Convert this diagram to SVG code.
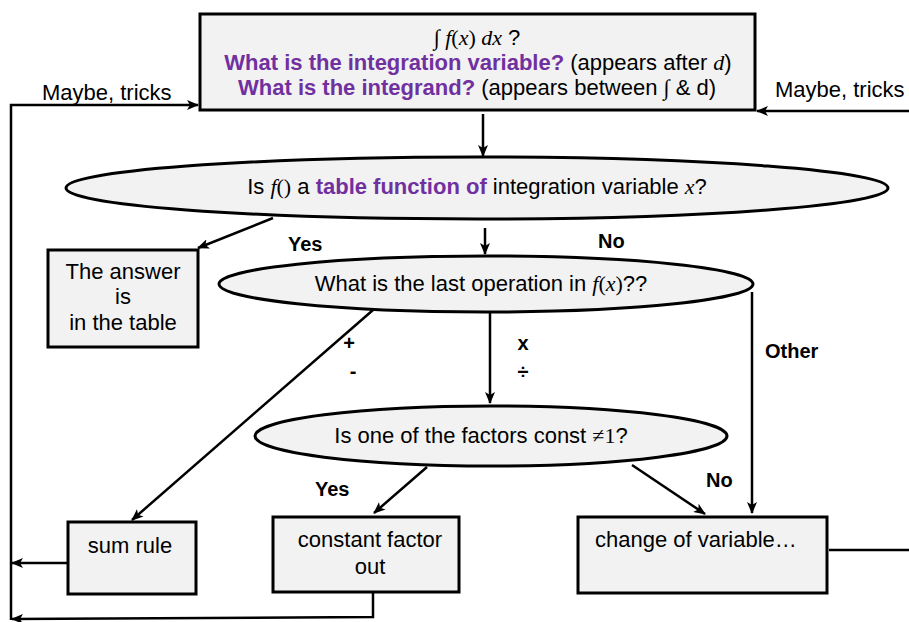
<svg xmlns="http://www.w3.org/2000/svg" width="909" height="622" viewBox="0 0 909 622">
<defs>
<marker id="ah" viewBox="0 0 12 10" refX="11" refY="5" markerWidth="12" markerHeight="10" markerUnits="userSpaceOnUse" orient="auto">
<path d="M0,0 L12,5 L0,10 L3,5 z" fill="#000"/>
</marker>
<style>
.box{fill:#f2f2f2;stroke:#000;stroke-width:3}
.ln{fill:none;stroke:#000;stroke-width:2.5}
.arr{fill:none;stroke:#000;stroke-width:2.5;marker-end:url(#ah)}
text{font-family:"Liberation Sans",Arial,sans-serif;font-size:22px;fill:#000}
.c{text-anchor:middle}
.b{font-weight:bold;font-size:20px}
.p{fill:#7030a0;font-weight:bold}
.m{font-family:"Liberation Serif","Times New Roman",serif;font-style:italic}
.s{font-family:"Liberation Serif","Times New Roman",serif}
</style>
</defs>
<g id="connectors">
<polyline class="arr" points="11,620 11,105 198,105"/>
<line class="arr" x1="909" y1="111" x2="757" y2="111"/>
<line class="arr" x1="483" y1="114" x2="483" y2="156"/>
<line class="arr" x1="273" y1="218" x2="198" y2="248"/>
<line class="arr" x1="485" y1="228" x2="485" y2="254"/>
<line class="arr" x1="373" y1="310" x2="132" y2="520"/>
<line class="arr" x1="490" y1="311" x2="490" y2="403"/>
<line class="arr" x1="752" y1="292" x2="752" y2="513"/>
<line class="arr" x1="427" y1="467" x2="374" y2="513"/>
<line class="arr" x1="632" y1="465" x2="705" y2="514"/>
<line class="arr" x1="67" y1="563" x2="12" y2="563"/>
<polyline class="arr" points="373,592 373,617 12,619"/>
<line class="ln" x1="829" y1="550" x2="909" y2="550"/>
<text x="42" y="100">Maybe, tricks</text>
<text x="775" y="97">Maybe, tricks</text>
<text class="b" x="288" y="251">Yes</text>
<text class="b" x="598" y="248">No</text>
<text class="b c" x="349" y="350">+</text>
<text class="b c" x="353" y="378">-</text>
<text class="b c" x="523" y="350">x</text>
<text class="b c" x="523" y="379">÷</text>
<text class="b" x="765" y="358">Other</text>
<text class="b" x="315" y="496">Yes</text>
<text class="b" x="706" y="487">No</text>
</g>
<g id="start">
<rect class="box" x="200" y="14" width="555" height="96"/>
<text class="c" x="477" y="45"><tspan class="s">∫ </tspan><tspan class="m">f</tspan><tspan class="s">(</tspan><tspan class="m">x</tspan><tspan class="s">) </tspan><tspan class="m">dx</tspan> ?</text>
<text class="c" x="478" y="70"><tspan class="p">What is the integration variable?</tspan> (appears after <tspan class="m">d</tspan>)</text>
<text class="c" x="477" y="95"><tspan class="p">What is the integrand?</tspan> (appears between <tspan class="s">∫</tspan> &amp; d)</text>
</g>
<g id="q-table">
<ellipse class="box" cx="477" cy="188" rx="411" ry="31"/>
<text class="c" x="477" y="194">Is <tspan class="m">f</tspan><tspan class="s">()</tspan> a <tspan class="p">table function of</tspan> integration variable <tspan class="m">x</tspan>?</text>
</g>
<g id="answer">
<rect class="box" x="48" y="250" width="150" height="97"/>
<text class="c" x="123" y="279">The answer</text>
<text class="c" x="123" y="304">is</text>
<text class="c" x="123" y="330">in the table</text>
</g>
<g id="q-last">
<ellipse class="box" cx="486" cy="284" rx="267" ry="28"/>
<text class="c" x="481" y="291">What is the last operation in <tspan class="m">f</tspan><tspan class="s">(</tspan><tspan class="m">x</tspan><tspan class="s">)</tspan>??</text>
</g>
<g id="q-const">
<ellipse class="box" cx="491" cy="436" rx="236" ry="30"/>
<text class="c" x="481" y="443">Is one of the factors const <tspan class="s">≠1</tspan>?</text>
</g>
<g id="sum">
<rect class="box" x="68" y="522" width="128" height="72"/>
<text class="c" x="130" y="553" font-size="24">sum rule</text>
</g>
<g id="constfactor">
<rect class="box" x="273" y="517" width="186" height="75"/>
<text class="c" x="370" y="547">constant factor</text>
<text class="c" x="370" y="574">out</text>
</g>
<g id="change">
<rect class="box" x="578" y="517" width="249" height="76"/>
<text x="595" y="547">change of variable…</text>
</g>
</svg>
